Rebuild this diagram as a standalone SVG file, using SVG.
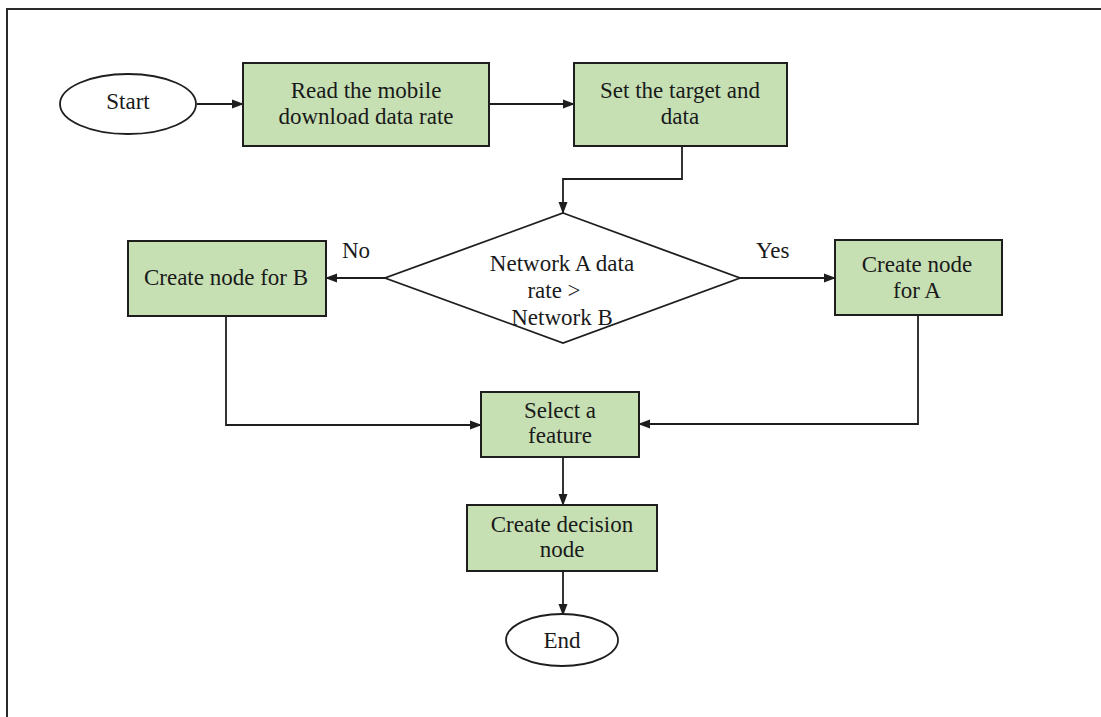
<svg xmlns="http://www.w3.org/2000/svg" width="1101" height="717" viewBox="0 0 1101 717">
<style>
.box{fill:#c6e0b4;stroke:#1e1e1e;stroke-width:2}
.term{fill:#ffffff;stroke:#1e1e1e;stroke-width:1.8}
.conn{fill:none;stroke:#1e1e1e;stroke-width:1.8}
.t{font-family:"Liberation Serif","Times New Roman",serif;font-size:23px;fill:#1a1a1a;text-anchor:middle}
.lbl{font-family:"Liberation Serif","Times New Roman",serif;font-size:23px;fill:#1a1a1a}
</style>
<defs>
<marker id="arr" markerUnits="userSpaceOnUse" markerWidth="12" markerHeight="10" refX="11" refY="5" orient="auto">
<path d="M0,0.5 L12,5 L0,9.5 Z" fill="#1e1e1e"/>
</marker>
</defs>
<rect x="0" y="0" width="1101" height="717" fill="#ffffff"/>
<path d="M7,717 V9 H1101" fill="none" stroke="#2a2a2a" stroke-width="2"/>
<g id="connectors">
<path class="conn" d="M197,104 H243" marker-end="url(#arr)"/>
<path class="conn" d="M489,104 H574" marker-end="url(#arr)"/>
<path class="conn" d="M682,146 V179 H563 V213" marker-end="url(#arr)"/>
<path class="conn" d="M385,278 H326" marker-end="url(#arr)"/>
<path class="conn" d="M740,278 H835" marker-end="url(#arr)"/>
<path class="conn" d="M226,316 V425 H481" marker-end="url(#arr)"/>
<path class="conn" d="M918,315 V424 H639" marker-end="url(#arr)"/>
<path class="conn" d="M563,457 V505" marker-end="url(#arr)"/>
<path class="conn" d="M563,571 V615" marker-end="url(#arr)"/>
<text class="lbl" x="342" y="258">No</text>
<text class="lbl" x="756" y="258">Yes</text>
</g>
<g id="start">
<ellipse class="term" cx="128" cy="104" rx="68" ry="30"/>
<text class="t" x="128" y="109">Start</text>
</g>
<g id="read">
<rect class="box" x="243" y="63" width="246" height="83"/>
<text class="t" x="366" y="98">Read the mobile</text>
<text class="t" x="366" y="124">download data rate</text>
</g>
<g id="set">
<rect class="box" x="574" y="63" width="213" height="83"/>
<text class="t" x="680" y="98">Set the target and</text>
<text class="t" x="680" y="124">data</text>
</g>
<g id="decision">
<polygon class="term" points="563,213 740,278 563,343 385,278"/>
<text class="t" x="562" y="271">Network A data</text>
<text class="t" x="554" y="298">rate  &gt;</text>
<text class="t" x="562" y="325">Network B</text>
</g>
<g id="nodeB">
<rect class="box" x="128" y="241" width="198" height="75"/>
<text class="t" x="226" y="285">Create node for B</text>
</g>
<g id="nodeA">
<rect class="box" x="835" y="240" width="167" height="75"/>
<text class="t" x="917" y="272">Create node</text>
<text class="t" x="917" y="298">for A</text>
</g>
<g id="select">
<rect class="box" x="481" y="392" width="158" height="65"/>
<text class="t" x="560" y="418">Select a</text>
<text class="t" x="560" y="443">feature</text>
</g>
<g id="createDecision">
<rect class="box" x="467" y="505" width="190" height="66"/>
<text class="t" x="562" y="532">Create decision</text>
<text class="t" x="562" y="557">node</text>
</g>
<g id="end">
<ellipse class="term" cx="562" cy="640" rx="56" ry="26"/>
<text class="t" x="562" y="648">End</text>
</g>
</svg>
